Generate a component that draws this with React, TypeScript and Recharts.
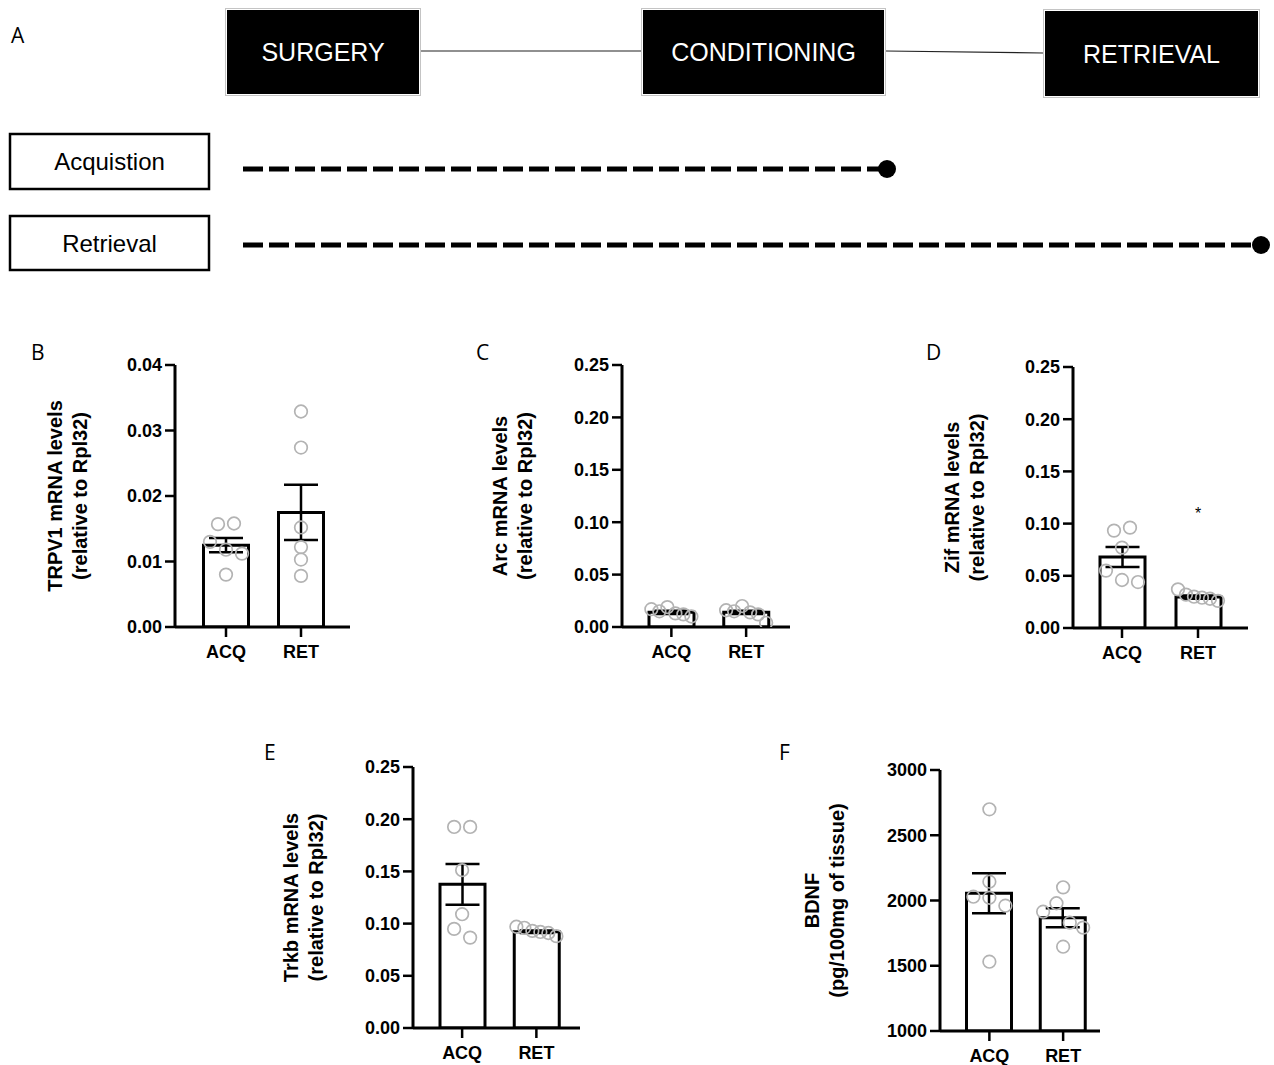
import React from 'react';
import { ComposedChart, Bar, Scatter, XAxis, YAxis, ErrorBar } from 'recharts';

// ---- data ----
const GROUPS = ['ACQ', 'RET'];

const STAGES = ['SURGERY', 'CONDITIONING', 'RETRIEVAL'];
const COHORTS = ['Acquistion', 'Retrieval'];

// B - TRPV1
const TRPV1_MEAN = [0.0125, 0.0175];
const TRPV1_SEM = [0.0011, 0.0042];
const TRPV1_ACQ = [0.0157, 0.0158, 0.013, 0.0118, 0.0112, 0.008];
const TRPV1_RET = [0.0329, 0.0274, 0.0152, 0.0122, 0.0103, 0.0078];
const TRPV1_TICKS = [0, 0.01, 0.02, 0.03, 0.04];

// C - Arc
const ARC_MEAN = [0.014, 0.014];
const ARC_SEM = [0.0015, 0.0015];
const ARC_ACQ = [0.017, 0.015, 0.019, 0.013, 0.012, 0.01];
const ARC_RET = [0.016, 0.015, 0.02, 0.014, 0.012, 0.004];

// D - Zif
const ZIF_MEAN = [0.068, 0.0296];
const ZIF_SEM = [0.0095, 0.0015];
const ZIF_ACQ = [0.0933, 0.0961, 0.077, 0.055, 0.046, 0.044];
const ZIF_RET = [0.037, 0.032, 0.03, 0.029, 0.028, 0.026];
const ZIF_STAR = 0.113;

// E - Trkb
const TRKB_MEAN = [0.1376, 0.0923];
const TRKB_SEM = [0.0195, 0.0012];
const TRKB_ACQ = [0.1926, 0.1926, 0.1512, 0.109, 0.0949, 0.0866];
const TRKB_RET = [0.097, 0.096, 0.093, 0.092, 0.091, 0.088];

const MRNA_TICKS = [0, 0.05, 0.1, 0.15, 0.2, 0.25];

// F - BDNF
const BDNF_MEAN = [2055, 1868];
const BDNF_SEM = [153, 73];
const BDNF_ACQ = [2699, 2144, 2029, 2021, 1960, 1531];
const BDNF_RET = [2101, 1914, 1979, 1830, 1792, 1646];
const BDNF_TICKS = [1000, 1500, 2000, 2500, 3000];

// ---- styling ----
const FONT = '"Liberation Sans", Arial, Helvetica, sans-serif';
const LETTER_FONT = '"Open Sans", "Noto Sans", sans-serif';
const DOT_COLOR = '#b3b3b3';

// spread points sideways when they sit close together (prism-style column scatter)
function swarmOffsets(values: number[], pxPerUnit: number): number[] {
  const order = values.map((_, i) => i).sort((a, b) => values[b] - values[a]);
  const out = values.map(() => 0);
  const rows: number[][] = [];
  order.forEach((i, k) => {
    const prev = k > 0 ? order[k - 1] : -1;
    if (prev >= 0 && (values[prev] - values[i]) * pxPerUnit < 12) rows[rows.length - 1].push(i);
    else rows.push([i]);
  });
  rows.forEach((row) => {
    const n = row.length;
    const step = n > 1 ? Math.min(16, 40 / (n - 1)) : 0;
    [...row].sort((a, b) => a - b).forEach((idx, j) => {
      out[idx] = (j - (n - 1) / 2) * step;
    });
  });
  return out;
}

const renderDot = (p: any) => (
  <circle cx={p.cx} cy={p.cy} r={6.3} fill="none" stroke={DOT_COLOR} strokeWidth={1.7} />
);

const renderStar = (p: any) => (
  <text x={p.cx} y={p.cy + 9} textAnchor="middle" fontSize={16} fontFamily={FONT} fill="#000">
    *
  </text>
);

interface Layout {
  left: number;
  top: number;
  w: number;
  h: number;
  padL: number;
  padR: number;
  titleGap: number;
}

interface PanelProps {
  title: string[];
  mean: number[];
  sem: number[];
  cols: number[][];
  ticks: number[];
  digits: number;
  layout: Layout;
  star?: number;
}

const M_TOP = 15;
const M_LEFT = 90;
const Y_W = 60;

const BarPanel: React.FC<PanelProps> = ({ title, mean, sem, cols, ticks, digits, layout, star }) => {
  const { left, top, w, h, padL, padR, titleGap } = layout;
  const lo = ticks[0];
  const hi = ticks[ticks.length - 1];
  const pxPerUnit = h / (hi - lo);
  const band = (w - padL - padR) / GROUPS.length;

  const bars = GROUPS.map((g, i) => ({ group: g, mean: mean[i], sem: sem[i] }));
  const points = cols.flatMap((vals, gi) => {
    const off = swarmOffsets(vals, pxPerUnit);
    return vals.map((v, k) => ({ x: gi + 0.5 + off[k] / band, v }));
  });
  const starPts = star !== undefined ? [{ x: 1.5, v: star }] : [];

  const plotX = M_LEFT + Y_W;
  const midY = M_TOP + h / 2;
  const renderTitle = () => (
    <g>
      {title.map((t, i) => {
        const x = plotX - titleGap - (title.length - 1 - i) * 25;
        return (
          <text
            key={t}
            x={x}
            y={midY}
            transform={`rotate(-90, ${x}, ${midY})`}
            textAnchor="middle"
            dominantBaseline="central"
            fontSize={20}
            fontWeight={700}
            fontFamily={FONT}
            fill="#000"
          >
            {t}
          </text>
        );
      })}
    </g>
  );

  return (
    <div style={{ position: 'absolute', left: left - plotX, top: top - M_TOP }}>
      <ComposedChart
        width={w + plotX + 20}
        height={h + M_TOP + 45}
        data={bars}
        margin={{ top: M_TOP, right: 20, bottom: 15, left: M_LEFT }}
      >
        <XAxis
          xAxisId="cat"
          dataKey="group"
          type="category"
          padding={{ left: padL, right: padR }}
          height={30}
          tickSize={10}
          tickMargin={8}
          tick={{ fill: '#000', fontSize: 18, fontWeight: 700, fontFamily: FONT }}
          tickLine={{ stroke: '#000', strokeWidth: 2.5 }}
          axisLine={{ stroke: '#000', strokeWidth: 3 }}
        />
        <XAxis
          xAxisId="num"
          dataKey="x"
          type="number"
          domain={[0, GROUPS.length]}
          padding={{ left: padL, right: padR }}
          allowDataOverflow
          hide
        />
        <YAxis
          type="number"
          domain={[lo, hi]}
          ticks={ticks}
          interval={0}
          allowDataOverflow
          width={Y_W}
          tickSize={10}
          tickMargin={3}
          tickFormatter={(v: number) => v.toFixed(digits)}
          tick={{ fill: '#000', fontSize: 18, fontWeight: 700, fontFamily: FONT }}
          tickLine={{ stroke: '#000', strokeWidth: 2.5 }}
          axisLine={{ stroke: '#000', strokeWidth: 3 }}
          label={renderTitle}
        />
        <Bar
          xAxisId="cat"
          dataKey="mean"
          barSize={45}
          fill="#fff"
          stroke="#000"
          strokeWidth={3}
          isAnimationActive={false}
        >
          <ErrorBar dataKey="sem" direction="y" width={17} stroke="#000" strokeWidth={2.5} />
        </Bar>
        <Scatter xAxisId="num" data={points} dataKey="v" shape={renderDot} isAnimationActive={false} />
        {starPts.length > 0 && (
          <Scatter xAxisId="num" data={starPts} dataKey="v" shape={renderStar} isAnimationActive={false} />
        )}
      </ComposedChart>
    </div>
  );
};

// ---- protocol timeline (panel A) ----
const STAGE_BOXES = [
  { x: 225, y: 8, w: 196, h: 88 },
  { x: 641, y: 8, w: 245, h: 88 },
  { x: 1043, y: 9, w: 217, h: 89 },
];
const COHORT_BOXES = [
  { x: 10, y: 134, w: 199, h: 55 },
  { x: 10, y: 216, w: 199, h: 54 },
];
const COHORT_LINE_END = [887, 1261];

const Timeline: React.FC = () => (
  <svg width={1274} height={300} style={{ position: 'absolute', left: 0, top: 0 }}>
    <line x1={421} y1={51} x2={641} y2={51} stroke="#222" strokeWidth={1.2} />
    <line x1={886} y1={51} x2={1043} y2={53} stroke="#222" strokeWidth={1.2} />
    {STAGES.map((s, i) => {
      const b = STAGE_BOXES[i];
      return (
        <g key={s}>
          <rect x={b.x + 0.5} y={b.y + 0.5} width={b.w - 1} height={b.h - 1} fill="#fff" stroke="#c4c4c4" strokeWidth={1} />
          <rect x={b.x + 2} y={b.y + 2} width={b.w - 4} height={b.h - 4} fill="#000" />
          <text
            x={b.x + b.w / 2}
            y={b.y + b.h / 2}
            textAnchor="middle"
            dominantBaseline="central"
            fill="#fff"
            fontSize={25}
            fontFamily={FONT}
          >
            {s}
          </text>
        </g>
      );
    })}
    {COHORTS.map((c, i) => {
      const b = COHORT_BOXES[i];
      const cy = b.y + b.h / 2;
      const cyLine = i === 0 ? 169 : 245;
      return (
        <g key={c}>
          <rect x={b.x} y={b.y} width={b.w} height={b.h} fill="#fff" stroke="#000" strokeWidth={2.5} />
          <text x={b.x + b.w / 2} y={cy} textAnchor="middle" dominantBaseline="central" fontSize={24} fontFamily={FONT} fill="#000">
            {c}
          </text>
          <line x1={243} y1={cyLine} x2={COHORT_LINE_END[i]} y2={cyLine} stroke="#000" strokeWidth={5} strokeDasharray="20 6" />
          <circle cx={COHORT_LINE_END[i]} cy={cyLine} r={9} fill="#000" />
        </g>
      );
    })}
  </svg>
);

const LETTERS = [
  { t: 'A', x: 11, y: 43 },
  { t: 'B', x: 31, y: 360 },
  { t: 'C', x: 476, y: 360 },
  { t: 'D', x: 926, y: 360 },
  { t: 'E', x: 264, y: 760 },
  { t: 'F', x: 779, y: 760 },
];

const App: React.FC = () => (
  <div style={{ position: 'absolute', left: 0, top: 0, width: 1274, height: 1065, background: '#fff', overflow: 'hidden' }}>
    <Timeline />
    <svg width={1274} height={1065} style={{ position: 'absolute', left: 0, top: 0 }}>
      {LETTERS.map((l) => (
        <text key={l.t} x={l.x} y={l.y} fontSize={21} fontFamily={LETTER_FONT} fill="#000">
          {l.t}
        </text>
      ))}
    </svg>
    <BarPanel
      title={['TRPV1 mRNA levels', '(relative to Rpl32)']}
      mean={TRPV1_MEAN}
      sem={TRPV1_SEM}
      cols={[TRPV1_ACQ, TRPV1_RET]}
      ticks={TRPV1_TICKS}
      digits={2}
      layout={{ left: 175, top: 365, w: 175, h: 262, padL: 13.5, padR: 11.5, titleGap: 95 }}
    />
    <BarPanel
      title={['Arc mRNA levels', '(relative to Rpl32)']}
      mean={ARC_MEAN}
      sem={ARC_SEM}
      cols={[ARC_ACQ, ARC_RET]}
      ticks={MRNA_TICKS}
      digits={2}
      layout={{ left: 622, top: 365, w: 168, h: 262, padL: 12, padR: 6.5, titleGap: 97 }}
    />
    <BarPanel
      title={['Zif mRNA levels', '(relative to Rpl32)']}
      mean={ZIF_MEAN}
      sem={ZIF_SEM}
      cols={[ZIF_ACQ, ZIF_RET]}
      ticks={MRNA_TICKS}
      digits={2}
      star={ZIF_STAR}
      layout={{ left: 1073, top: 367, w: 175, h: 261, padL: 11, padR: 12, titleGap: 96 }}
    />
    <BarPanel
      title={['Trkb mRNA levels', '(relative to Rpl32)']}
      mean={TRKB_MEAN}
      sem={TRKB_SEM}
      cols={[TRKB_ACQ, TRKB_RET]}
      ticks={MRNA_TICKS}
      digits={2}
      layout={{ left: 413, top: 767, w: 167, h: 261, padL: 12, padR: 6.5, titleGap: 97 }}
    />
    <BarPanel
      title={['BDNF', '(pg/100mg of tissue)']}
      mean={BDNF_MEAN}
      sem={BDNF_SEM}
      cols={[BDNF_ACQ, BDNF_RET]}
      ticks={BDNF_TICKS}
      digits={0}
      layout={{ left: 940, top: 770, w: 160, h: 261, padL: 12.5, padR: 0, titleGap: 103 }}
    />
  </div>
);

export default App;
